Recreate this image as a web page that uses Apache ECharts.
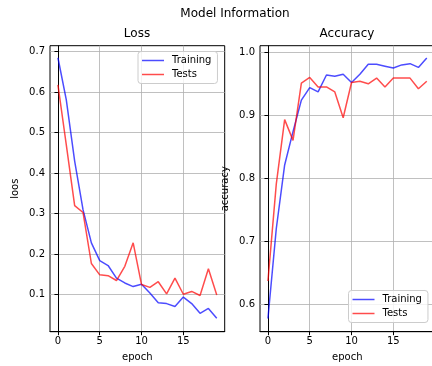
<!DOCTYPE html>
<html>
<head>
<meta charset="UTF-8">
<title>Model Information</title>
<script src="https://cdn.jsdelivr.net/npm/echarts@6/dist/echarts.min.js"></script>
<style>
  body { margin: 0; background: #fff; }
  #main { width: 432px; height: 366px; }
</style>
</head>
<body>
<div id="main"></div>
<script type="text/javascript">
// epochs 0..19
var epochs = [0, 1, 2, 3, 4, 5, 6, 7, 8, 9, 10, 11, 12, 13, 14, 15, 16, 17, 18, 19];
var lossTrain = [0.685, 0.581, 0.43, 0.31, 0.228, 0.184, 0.172, 0.141, 0.129, 0.120,
                 0.126, 0.104, 0.080, 0.078, 0.071, 0.094, 0.078, 0.054, 0.066, 0.042];
var lossTest = [0.618, 0.47, 0.32, 0.303, 0.177, 0.149, 0.147, 0.135, 0.170, 0.228,
                0.125, 0.118, 0.132, 0.102, 0.141, 0.101, 0.108, 0.098, 0.164, 0.099];
var accTrain = [0.577, 0.72, 0.821, 0.874, 0.924, 0.944, 0.937, 0.964, 0.962, 0.965,
                0.952, 0.965, 0.981, 0.981, 0.978, 0.975, 0.980, 0.982, 0.976, 0.991];
var accTest = [0.6365, 0.791, 0.893, 0.860, 0.951, 0.960, 0.945, 0.945, 0.937, 0.896,
               0.952, 0.954, 0.950, 0.959, 0.945, 0.959, 0.959, 0.959, 0.942, 0.954];
var xTicks = [0, 5, 10, 15];
var lossTicks = [0.1, 0.2, 0.3, 0.4, 0.5, 0.6, 0.7];
var accTicks = [0.6, 0.7, 0.8, 0.9, 1.0];

var blue = 'rgba(0,0,255,0.7)';
var red = 'rgba(255,0,0,0.7)';
var font = 'DejaVu Sans';

function pairs(ys) {
	return epochs.map(function (e, i) { return [e, ys[i]]; });
}

function xAxisFor(idx) {
	return {
		type: 'value', gridIndex: idx, min: -0.95, max: 19.95,
		name: 'epoch', nameLocation: 'middle', nameGap: 21,
		nameTextStyle: { fontFamily: font, fontSize: 10, color: '#000' },
		axisLine: { show: true, onZero: false, lineStyle: { color: '#000', width: 1 } },
		axisTick: { show: true, length: 3.5, customValues: xTicks, lineStyle: { color: '#000' } },
		axisLabel: { customValues: xTicks, fontFamily: font, fontSize: 10, color: '#000', margin: 5 },
		splitLine: { show: true, lineStyle: { color: '#b0b0b0', width: 0.8 } }
	};
}

function yAxisFor(idx, name, min, max, ticks) {
	return {
		type: 'value', gridIndex: idx, min: min, max: max,
		name: name, nameLocation: 'middle', nameGap: 30, nameRotate: 90,
		nameTextStyle: { fontFamily: font, fontSize: 10, color: '#000' },
		axisLine: { show: true, lineStyle: { color: '#000', width: 1 } },
		axisTick: { show: true, length: 3.5, customValues: ticks, lineStyle: { color: '#000' } },
		axisLabel: {
			customValues: ticks, fontFamily: font, fontSize: 10, color: '#000', margin: 5,
			formatter: function (v) { return v.toFixed(1); }
		},
		splitLine: { show: true, lineStyle: { color: '#b0b0b0', width: 0.8 } }
	};
}

function lineSeries(name, idx, ys, color) {
	return {
		name: name, type: 'line', xAxisIndex: idx, yAxisIndex: idx,
		data: pairs(ys), showSymbol: false, symbol: 'none',
		lineStyle: { color: color, width: 1.5 }, itemStyle: { color: color },
		animation: false
	};
}

function legendAt(left, top) {
	return {
		orient: 'vertical', left: left, top: top,
		data: ['Training', 'Tests'], selectedMode: false,
		icon: 'rect', itemWidth: 22, itemHeight: 1.5, itemGap: 4,
		padding: [4, 6, 4, 4],
		backgroundColor: 'rgba(255,255,255,0.8)',
		borderColor: '#cccccc', borderWidth: 1, borderRadius: 3,
		textStyle: { fontFamily: font, fontSize: 10, color: '#000', padding: [0, 0, 0, 3] }
	};
}

var myChart = echarts.init(document.getElementById('main'));
var option = {
	backgroundColor: '#fff',
	animation: false,
	title: [
		{ text: 'Model Information', left: 235, top: 8, textAlign: 'center', padding: 0,
		  textStyle: { fontFamily: font, fontSize: 12, fontWeight: 'normal', color: '#000' } },
		{ text: 'Loss', left: 137, top: 28, textAlign: 'center', padding: 0,
		  textStyle: { fontFamily: font, fontSize: 12, fontWeight: 'normal', color: '#000' } },
		{ text: 'Accuracy', left: 347, top: 28, textAlign: 'center', padding: 0,
		  textStyle: { fontFamily: font, fontSize: 12, fontWeight: 'normal', color: '#000' } }
	],
	legend: [legendAt(138, 51.5), legendAt(348.5, 290.5)],
	grid: [
		{ left: 50, top: 45.7, width: 174.7, height: 286, show: true, borderColor: '#000', borderWidth: 1,
		  outerBoundsMode: 'none', containLabel: false },
		{ left: 260, top: 45.7, width: 174.7, height: 286, show: true, borderColor: '#000', borderWidth: 1,
		  outerBoundsMode: 'none', containLabel: false }
	],
	xAxis: [xAxisFor(0), xAxisFor(1)],
	yAxis: [
		yAxisFor(0, 'loos', 0.0086, 0.7148, lossTicks),
		yAxisFor(1, 'accuracy', 0.556, 1.0105, accTicks)
	],
	series: [
		lineSeries('Training', 0, lossTrain, blue),
		lineSeries('Tests', 0, lossTest, red),
		lineSeries('Training', 1, accTrain, blue),
		lineSeries('Tests', 1, accTest, red)
	]
};
myChart.setOption(option);
</script>
</body>
</html>
